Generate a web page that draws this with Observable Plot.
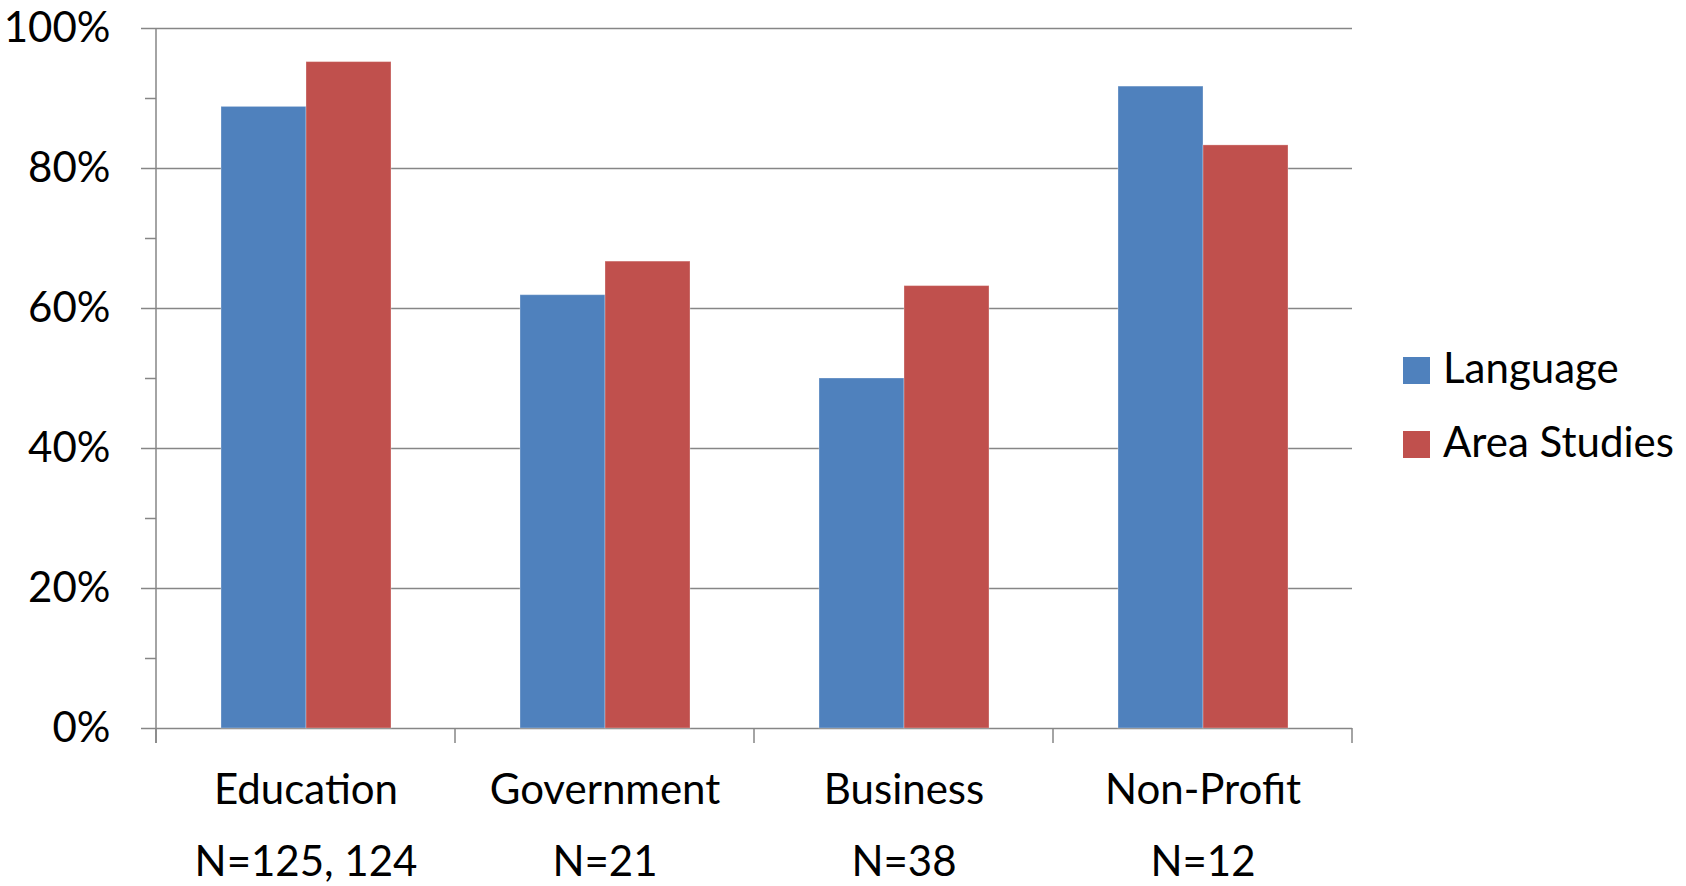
<!DOCTYPE html>
<html>
<head>
<meta charset="utf-8">
<script src="https://cdn.jsdelivr.net/npm/d3@7"></script>
<script src="https://cdn.jsdelivr.net/npm/@observablehq/plot@0.6"></script>
<style>
  html, body { margin: 0; padding: 0; background: #fff; }
  #wrap { position: relative; width: 1686px; height: 886px; font-family: Lato, "Open Sans", sans-serif; }
  .lg-sw { position: absolute; width: 27px; height: 27px; }
  .lg-tx { position: absolute; font-size: 42px; line-height: 42px; color: #000; white-space: nowrap; }
</style>
</head>
<body>
<div id="wrap"></div>
<script>
const categories = ["Education", "Government", "Business", "Non-Profit"];
const nLabels = ["N=125, 124", "N=21", "N=38", "N=12"];
const series = ["Language", "Area Studies"];
const languageValues = [88.8, 61.9, 50.0, 91.7];
const areaStudiesValues = [95.2, 66.7, 63.2, 83.3];
const colors = ["#4F81BD", "#C0504D"];
const yMajorTicks = [0, 20, 40, 60, 80, 100];
const yMinorTicks = [10, 30, 50, 70, 90];

const gray = "#868686";

const data = [];
categories.forEach((c, i) => {
  data.push({category: c, series: series[0], value: languageValues[i]});
  data.push({category: c, series: series[1], value: areaStudiesValues[i]});
});

const plot = Plot.plot({
  width: 1363,
  height: 886,
  marginLeft: 154,
  marginRight: 10,
  marginTop: 28,
  marginBottom: 158,
  style: {fontFamily: "Lato, 'Open Sans', sans-serif", fontSize: "42px", color: "#000", background: "#fff", overflow: "visible"},
  fx: {domain: categories, padding: 0, label: null},
  x: {domain: series, paddingInner: 0, paddingOuter: 0.753, axis: null},
  y: {domain: [0, 100], label: null},
  color: {domain: series, range: colors},
  marks: [
    Plot.ruleY(yMajorTicks, {y: d => d, stroke: gray, strokeWidth: 1.5}),
    Plot.barY(data, {fx: "category", x: "series", y: "value", fill: "series", stroke: "#fff", strokeOpacity: 0.3, strokeWidth: 1}),
    Plot.axisY(yMajorTicks, {tickSize: 15, tickPadding: 31, tickFormat: d => d + "%", stroke: gray, strokeWidth: 1.5, fill: "#000", fontSize: 42, label: null}),
    Plot.axisY(yMinorTicks, {tickSize: 11, tickFormat: () => "", stroke: gray, strokeWidth: 1.5, label: null}),
    Plot.axisFx({anchor: "bottom", tickSize: 0, tickPadding: 25, fontSize: 42, lineHeight: 1.7, fill: "#000", label: null,
      tickFormat: c => c + "\n" + nLabels[categories.indexOf(c)]})
  ]
});

// category boundary ticks and y axis line, positioned through Plot's own scales
const fx = plot.scale("fx");
const y = plot.scale("y");
const bounds = categories.map(c => fx.apply(c));
bounds.push(fx.apply(categories[categories.length - 1]) + fx.bandwidth);
const y0 = y.apply(0);
const g = d3.select(plot).append("g").attr("stroke", gray).attr("stroke-width", 1.5);
g.selectAll("line.b").data(bounds).join("line")
  .attr("x1", d => d).attr("x2", d => d)
  .attr("y1", y0).attr("y2", y0 + 15);
g.append("line")
  .attr("x1", bounds[0]).attr("x2", bounds[0])
  .attr("y1", y.apply(100)).attr("y2", y0 + 15);

const wrap = document.getElementById("wrap");
wrap.appendChild(plot);

series.forEach((s, i) => {
  const sw = document.createElement("div");
  sw.className = "lg-sw";
  sw.style.left = "1403px";
  sw.style.top = (357 + i * 74) + "px";
  sw.style.background = colors[i];
  wrap.appendChild(sw);
  const tx = document.createElement("div");
  tx.className = "lg-tx";
  tx.style.left = "1443px";
  tx.style.top = (346 + i * 74) + "px";
  tx.textContent = s;
  wrap.appendChild(tx);
});
plot.style.position = "absolute";
plot.style.left = "0px";
plot.style.top = "0px";
</script>
</body>
</html>
